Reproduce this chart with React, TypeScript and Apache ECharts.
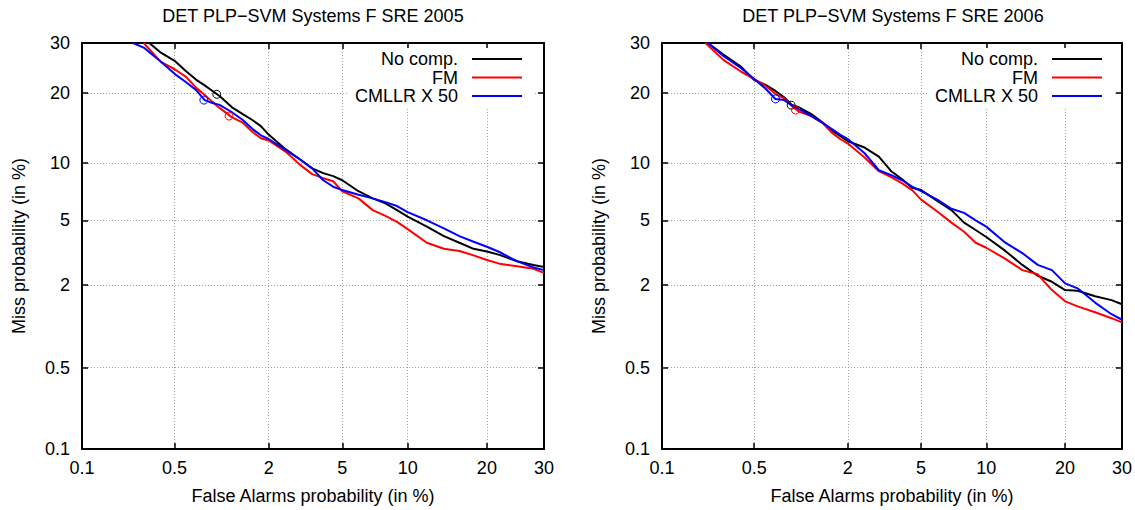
import React, { useEffect, useRef } from "react";
import * as echarts from "echarts";

// ---------- data (percent) ----------
const TICKS = [0.1, 0.5, 2, 5, 10, 20, 30];
const NAMES = ["No comp.", "FM", "CMLLR X 50"];
const COLORS = ["#000000", "#ff0000", "#0000ff"];
const TITLES = ["DET PLP\u2212SVM Systems F SRE 2005", "DET PLP\u2212SVM Systems F SRE 2006"];

// false-alarm abscissae shared by all curves
const FA_PCT = [0.4, 0.5, 0.6, 0.7, 0.8, 0.9, 1, 1.2, 1.4, 1.6, 1.8, 2, 2.5, 3, 3.5, 4, 4.5, 5, 6, 7, 8, 9, 10, 12, 14, 16, 18, 20, 22, 25, 28, 30];

// SRE 2005
const HEAD_05_NOCOMP = [[0.33, 30]];
const MISS_05_NOCOMP = [27.9, 26.2, 24.1, 22.5, 21.4, 20.4, 19.5, 17.6, 16.5, 15.6, 14.7, 13.5, 11.6, 10.4, 9.4, 8.9, 8.6, 8.2, 7.2, 6.6, 6.2, 5.7, 5.25, 4.6, 4.05, 3.7, 3.4, 3.27, 3.12, 2.85, 2.7, 2.62];
const HEAD_05_FM = [[0.3, 30]];
const MISS_05_FM = [26, 24.5, 23, 21, 19.7, 18.5, 17.5, 16.0, 15.2, 13.9, 13.0, 12.7, 11.3, 9.8, 8.8, 8.4, 8.1, 7.2, 6.6, 5.7, 5.3, 4.9, 4.45, 3.7, 3.4, 3.3, 3.1, 2.9, 2.75, 2.65, 2.55, 2.4];
const HEAD_05_CMLLR = [[0.25, 30], [0.3, 29]];
const MISS_05_CMLLR = [26, 23.6, 22, 20.6, 18.8, 18.3, 18, 16.8, 15.6, 14.3, 13.4, 12.9, 11.5, 10.4, 9.4, 8.2, 7.6, 7.3, 6.9, 6.6, 6.3, 6.0, 5.55, 5.0, 4.5, 4.05, 3.75, 3.5, 3.25, 2.85, 2.6, 2.5];
const OP_05 = [[0.96, 19.8], [1.15, 16.2], [0.79, 18.8]];

// SRE 2006
const HEAD_06_NOCOMP = [[0.23, 30], [0.3, 27.5]];
const MISS_06_NOCOMP = [25.1, 22.4, 21.5, 20.4, 19.3, 18, 17.6, 16.5, 15.3, 14.1, 13.3, 12.6, 11.8, 10.7, 9.1, 8.3, 7.5, 7.3, 6.4, 5.7, 4.85, 4.4, 4.0, 3.3, 2.7, 2.3, 2.1, 1.85, 1.83, 1.68, 1.58, 1.48];
const HEAD_06_FM = [[0.22, 30], [0.3, 26.4]];
const MISS_06_FM = [24.1, 22.6, 21.3, 19.9, 19.1, 17.8, 16.9, 16.2, 15.2, 13.8, 12.9, 12.3, 10.6, 9.1, 8.5, 7.9, 7.3, 6.5, 5.6, 4.85, 4.3, 3.7, 3.45, 2.95, 2.5, 2.35, 1.85, 1.55, 1.43, 1.3, 1.18, 1.1];
const HEAD_06_CMLLR = [[0.23, 30], [0.3, 27.2]];
const MISS_06_CMLLR = [24.8, 22.6, 20.8, 19, 18.8, 17.9, 17.3, 16.2, 15.2, 14.3, 13.5, 12.9, 11.1, 9.2, 8.7, 8.2, 7.6, 7.2, 6.5, 5.8, 5.5, 5.0, 4.6, 3.7, 3.2, 2.7, 2.5, 2.05, 1.9, 1.52, 1.26, 1.15];
const OP_06 = [[0.89, 17.95], [0.95, 17.15], [0.7, 19.0]];

// ---------- normal deviate scale (DET) ----------
function probit(p: number): number {
  const a = [-39.69683028665376, 220.9460984245205, -275.9285104469687, 138.357751867269, -30.66479806614716, 2.506628277459239];
  const b = [-54.47609879822406, 161.5858368580409, -155.6989798598866, 66.80131188771972, -13.28068155288572];
  const c = [-0.007784894002430293, -0.3223964580411365, -2.400758277161838, -2.549671348166002, 4.374664141464968, 2.938163982698783];
  const d = [0.007784695709041462, 0.3224671290700398, 2.445134137142996, 3.754408661907416];
  const plow = 0.02425;
  if (p < plow) {
    const q = Math.sqrt(-2 * Math.log(p));
    return (((((c[0] * q + c[1]) * q + c[2]) * q + c[3]) * q + c[4]) * q + c[5]) / ((((d[0] * q + d[1]) * q + d[2]) * q + d[3]) * q + 1);
  }
  if (p <= 1 - plow) {
    const q = p - 0.5;
    const r = q * q;
    return ((((((a[0] * r + a[1]) * r + a[2]) * r + a[3]) * r + a[4]) * r + a[5]) * q) / (((((b[0] * r + b[1]) * r + b[2]) * r + b[3]) * r + b[4]) * r + 1);
  }
  const q = Math.sqrt(-2 * Math.log(1 - p));
  return -(((((c[0] * q + c[1]) * q + c[2]) * q + c[3]) * q + c[4]) * q + c[5]) / ((((d[0] * q + d[1]) * q + d[2]) * q + d[3]) * q + 1);
}
const dev = (pct: number) => probit(pct / 100);

const FONT = "'Liberation Sans', Arial, Helvetica, sans-serif";
const TICK_VALS = TICKS.map(dev);
const labelOf = (v: number) => {
  const i = TICK_VALS.findIndex((t) => Math.abs(t - v) < 1e-6);
  return i >= 0 ? String(TICKS[i]) : "";
};

const GRID_LEFTS = [82, 662];
const GRID_TOP = 43;
const GRID_W = 462;
const GRID_H = 406;

function buildOption() {
  const textStyle = { fontSize: 18, color: "#000", fontFamily: FONT };
  const grids = GRID_LEFTS.map((left) => ({ left, top: GRID_TOP, width: GRID_W, height: GRID_H, show: false }));

  const xAxes: any[] = [];
  const yAxes: any[] = [];
  [0, 1].forEach((g) => {
    [true, false].forEach((main) => {
      xAxes.push({
        type: "value",
        gridIndex: g,
        position: main ? "bottom" : "top",
        min: TICK_VALS[0],
        max: TICK_VALS[TICK_VALS.length - 1],
        axisLine: { show: true, onZero: false, lineStyle: { color: "#000", width: 2 } },
        axisTick: { show: true, inside: true, length: 6, customValues: TICK_VALS, lineStyle: { color: "#000", width: 1.5 } },
        axisLabel: main
          ? { show: true, customValues: TICK_VALS, formatter: labelOf, margin: 10, ...textStyle }
          : { show: false },
        splitLine: main ? { show: true, lineStyle: { color: "#a0a0a0", type: [1, 2], width: 1 } } : { show: false },
        name: main ? "False Alarms probability (in %)" : "",
        nameLocation: "middle",
        nameGap: 38,
        nameTextStyle: textStyle,
      });
      yAxes.push({
        type: "value",
        gridIndex: g,
        position: main ? "left" : "right",
        min: TICK_VALS[0],
        max: TICK_VALS[TICK_VALS.length - 1],
        axisLine: { show: true, onZero: false, lineStyle: { color: "#000", width: 2 } },
        axisTick: { show: true, inside: true, length: 6, customValues: TICK_VALS, lineStyle: { color: "#000", width: 1.5 } },
        axisLabel: main
          ? { show: true, customValues: TICK_VALS, formatter: labelOf, margin: 12, ...textStyle }
          : { show: false },
        splitLine: main ? { show: true, lineStyle: { color: "#a0a0a0", type: [1, 2], width: 1 } } : { show: false },
        name: main ? "Miss probability (in %)" : "",
        nameLocation: "middle",
        nameGap: 54,
        nameRotate: 90,
        nameTextStyle: textStyle,
      });
    });
  });

  const panels = [
    { heads: [HEAD_05_NOCOMP, HEAD_05_FM, HEAD_05_CMLLR], miss: [MISS_05_NOCOMP, MISS_05_FM, MISS_05_CMLLR], ops: OP_05 },
    { heads: [HEAD_06_NOCOMP, HEAD_06_FM, HEAD_06_CMLLR], miss: [MISS_06_NOCOMP, MISS_06_FM, MISS_06_CMLLR], ops: OP_06 },
  ];

  const series: any[] = [];
  panels.forEach((p, g) => {
    NAMES.forEach((name, k) => {
      const pts = [...p.heads[k], ...FA_PCT.map((f, i) => [f, p.miss[k][i]])];
      const color = COLORS[k];
      series.push({
        type: "line",
        name,
        xAxisIndex: g * 2,
        yAxisIndex: g * 2,
        color,
        data: pts.map(([f, m]) => [dev(f), dev(m)]),
        showSymbol: false,
        symbol: "none",
        lineStyle: { color, width: 2 },
        itemStyle: { color },
        clip: true,
        z: 2,
        markPoint: {
          silent: true,
          symbol: "circle",
          symbolSize: 8,
          label: { show: false },
          itemStyle: { color: "rgba(0,0,0,0)", borderColor: color, borderWidth: 1 },
          data: [{ coord: [dev(p.ops[k][0]), dev(p.ops[k][1])] }],
        },
      });
    });
  });

  const legends = [600, 20].map((right) => ({
    data: NAMES,
    orient: "vertical",
    align: "right",
    right,
    top: 48,
    itemWidth: 50,
    itemHeight: 2,
    icon: "rect",
    itemGap: 0.5,
    selectedMode: false,
    backgroundColor: "#fff",
    padding: [2, 13, 2, 7],
    textStyle: { ...textStyle, lineHeight: 18, padding: [0, 9, 0, 0] },
  }));

  const graphic = TITLES.map((t, g) => ({
    type: "text",
    x: GRID_LEFTS[g] + GRID_W / 2,
    y: 16,
    style: { text: t, fontSize: 18, fontFamily: FONT, fill: "#000", align: "center", verticalAlign: "middle" },
  }));

  return {
    animation: false,
    backgroundColor: "#fff",
    grid: grids,
    xAxis: xAxes,
    yAxis: yAxes,
    legend: legends,
    series,
    graphic,
  };
}

export default function App() {
  const ref = useRef<HTMLDivElement>(null);
  useEffect(() => {
    if (!ref.current) return;
    const chart = echarts.init(ref.current, undefined, { renderer: "svg" });
    chart.setOption(buildOption() as any);
    return () => chart.dispose();
  }, []);
  return <div ref={ref} style={{ position: "fixed", left: 0, top: 0, width: 1135, height: 510 }} />;
}
